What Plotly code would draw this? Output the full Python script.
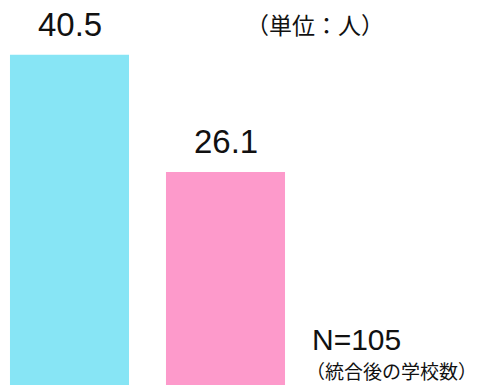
import plotly.graph_objects as go

# Data
categories = ["A", "B"]
values = [40.5, 26.1]
colors = ["#87E5F5", "#FD9ACB"]
unit_label = "（単位：人）"
n_label = "N=105"
n_note = "（統合後の学校数）"

num_font = "Liberation Sans, Arial, sans-serif"
cjk_font = "Noto Sans CJK JP, sans-serif"

fig = go.Figure()
fig.add_trace(go.Bar(
    x=categories,
    y=values,
    marker=dict(color=colors, line=dict(width=0)),
    width=0.763,
    hoverinfo="skip",
))

# Value labels above each bar
for cat, val in zip(categories, values):
    fig.add_annotation(
        x=cat, y=val, text=f"{val:.1f}",
        xref="x", yref="y", showarrow=False,
        yanchor="bottom", yshift=10,
        font=dict(family=num_font, size=33, color="#111111"),
    )

fig.add_annotation(
    x=315 / 478, y=1 - 24 / 385, xref="paper", yref="paper",
    text=unit_label, showarrow=False, xanchor="center", yanchor="middle",
    font=dict(family=cjk_font, size=23, color="#111111"),
)
fig.add_annotation(
    x=310 / 478, y=1 - 358 / 385, xref="paper", yref="paper",
    text=n_label, showarrow=False, xanchor="left", yanchor="bottom",
    font=dict(family=num_font, size=30, color="#111111"),
)
fig.add_annotation(
    x=1.0, y=0.0, xref="paper", yref="paper",
    text=n_note, showarrow=False, xanchor="right", yanchor="bottom",
    borderpad=0,
    font=dict(family=cjk_font, size=19, color="#111111"),
)

fig.update_layout(
    width=478, height=385,
    margin=dict(l=0, r=0, t=0, b=0),
    paper_bgcolor="white", plot_bgcolor="white",
    showlegend=False,
    xaxis=dict(visible=False, range=[-0.4455, 2.6186]),
    yaxis=dict(visible=False, range=[0, 47.2]),
)

fig.write_html("out.html")
